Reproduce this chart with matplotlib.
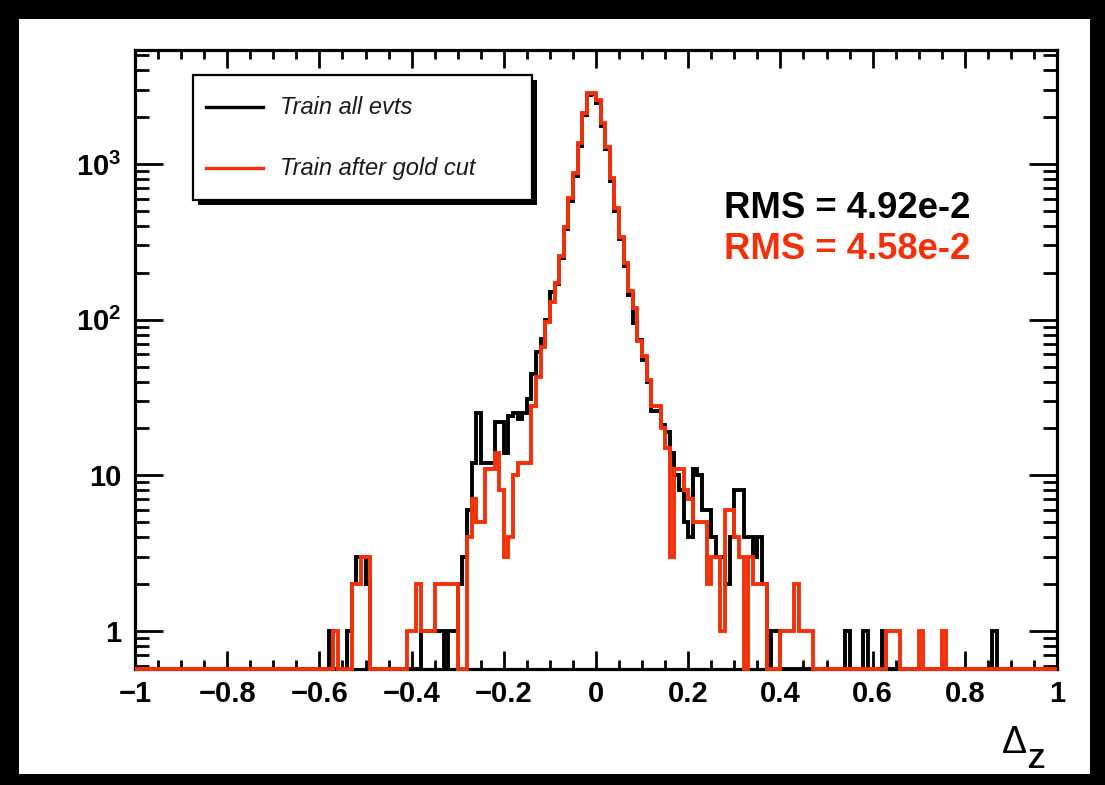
import numpy as np
import matplotlib
matplotlib.use('Agg')
import matplotlib.pyplot as plt
from matplotlib.patches import Rectangle
from matplotlib.lines import Line2D
from matplotlib.ticker import FixedLocator, LogLocator, NullFormatter, FixedFormatter

plt.rcParams['font.family'] = ['Liberation Sans', 'DejaVu Sans']
plt.rcParams['mathtext.fontset'] = 'custom'
plt.rcParams['mathtext.rm'] = 'Liberation Sans:bold'
plt.rcParams['mathtext.bf'] = 'Liberation Sans:bold'
plt.rcParams['mathtext.it'] = 'Liberation Sans:bold:italic'

# ---------------- data (200 bins from -1 to 1, width 0.01) ----------------
bin_lo, bin_hi, n_bins = -1.0, 1.0, 200

all_evts = [
    0, 0, 0, 0, 0, 0, 0, 0, 0, 0,          # -1.00 .. -0.91
    0, 0, 0, 0, 0, 0, 0, 0, 0, 0,          # -0.90
    0, 0, 0, 0, 0, 0, 0, 0, 0, 0,          # -0.80
    0, 0, 0, 0, 0, 0, 0, 0, 0, 0,          # -0.70
    0, 0, 1, 0, 0, 0, 1, 2, 3, 3,          # -0.60
    2, 0, 0, 0, 0, 0, 0, 0, 0, 0,          # -0.50
    0, 0, 1, 1, 1, 1, 1, 0, 1, 1,          # -0.40
    2, 3, 6, 12, 25, 12, 12, 12, 22, 22,   # -0.30
    14, 24, 25, 23, 25, 31, 45, 62, 75, 100,          # -0.20
    150, 170, 250, 385, 580, 840, 1300, 2050, 2780, 2800,  # -0.10
    2480, 1760, 1240, 780, 500, 330, 222, 145, 95, 74,     # 0.00
    55, 40, 26, 26, 21, 19, 14, 10, 8, 5,  # 0.10
    4, 11, 10, 6, 6, 4, 3, 3, 2, 4,        # 0.20
    8, 8, 4, 4, 3, 4, 2, 0, 1, 1,          # 0.30
    0, 0, 0, 0, 0, 0, 0, 0, 0, 0,          # 0.40
    0, 0, 0, 0, 1, 0, 0, 0, 1, 0,          # 0.50
    0, 0, 1, 0, 0, 0, 0, 0, 0, 0,          # 0.60
    0, 0, 0, 0, 0, 0, 0, 0, 0, 0,          # 0.70
    0, 0, 0, 0, 0, 0, 1, 0, 0, 0,          # 0.80
    0, 0, 0, 0, 0, 0, 0, 0, 0, 0,          # 0.90
]

gold_cut = [
    0, 0, 0, 0, 0, 0, 0, 0, 0, 0,          # -1.00
    0, 0, 0, 0, 0, 0, 0, 0, 0, 0,          # -0.90
    0, 0, 0, 0, 0, 0, 0, 0, 0, 0,          # -0.80
    0, 0, 0, 0, 0, 0, 0, 0, 0, 0,          # -0.70
    0, 0, 0, 1, 0, 0, 0, 2, 2, 3,          # -0.60
    3, 0, 0, 0, 0, 0, 0, 0, 0, 1,          # -0.50
    1, 2, 1, 1, 1, 2, 2, 2, 2, 2,          # -0.40
    0, 0, 4, 7, 5, 5, 11, 11, 14, 8,       # -0.30
    3, 4, 10, 12, 12, 12, 28, 43, 67, 97,  # -0.20
    130, 172, 255, 396, 603, 872, 1358, 2115, 2850, 2870,  # -0.10
    2570, 1824, 1291, 809, 520, 342, 231, 152, 119, 73,    # 0.00
    58, 41, 28, 28, 20, 15, 3, 11, 11, 8,  # 0.10
    7, 5, 5, 5, 2, 3, 3, 1, 6, 6,          # 0.20
    4, 3, 0, 3, 2, 2, 2, 0, 0, 0,          # 0.30
    1, 1, 1, 2, 1, 1, 1, 0, 0, 0,          # 0.40
    0, 0, 0, 0, 0, 0, 0, 0, 0, 0,          # 0.50
    0, 0, 0, 1, 1, 1, 0, 0, 0, 0,          # 0.60
    1, 0, 0, 0, 0, 1, 0, 0, 0, 0,          # 0.70
    0, 0, 0, 0, 0, 0, 0, 0, 0, 0,          # 0.80
    0, 0, 0, 0, 0, 0, 0, 0, 0, 0,          # 0.90
]

x_major = [-1, -0.8, -0.6, -0.4, -0.2, 0, 0.2, 0.4, 0.6, 0.8, 1]
x_labels = ['\u22121', '\u22120.8', '\u22120.6', '\u22120.4', '\u22120.2', '0',
            '0.2', '0.4', '0.6', '0.8', '1']
y_major = [1, 10, 100, 1000]
y_labels = ['1', '10', r'$10^{2}$', r'$10^{3}$']
legend_labels = ['Train all evts', 'Train after gold cut']
rms_texts = ['RMS = 4.92e-2', 'RMS = 4.58e-2']

YMIN, YMAX = 0.57, 5400
RED = '#f2300a'

# ---------------- figure ----------------
W, H = 1105, 785
fig = plt.figure(figsize=(W / 100, H / 100), dpi=100)
fig.patch.set_facecolor('black')


def fx(px):
    return px / W


def fy(py):
    return 1 - py / H


fig.patches.append(Rectangle((fx(19), fy(774)), fx(1090 - 19), (774 - 19) / H,
                             transform=fig.transFigure, facecolor='white',
                             edgecolor='none', zorder=-10))

ax = fig.add_axes([fx(135), fy(669), fx(1057 - 135), (669 - 50) / H])
ax.set_facecolor('white')

edges = np.linspace(bin_lo, bin_hi, n_bins + 1)
b = np.asarray(all_evts, dtype=float)
r = np.asarray(gold_cut, dtype=float)
ax.stairs(np.where(b > 0, b, YMIN), edges, baseline=None, color='black',
          lw=2.8, zorder=3, clip_on=False)
ax.stairs(np.where(r > 0, r, YMIN), edges, baseline=None, color=RED,
          lw=2.8, zorder=4, clip_on=False)

ax.set_yscale('log')
ax.set_xlim(-1, 1)
ax.set_ylim(YMIN, YMAX)

for s in ax.spines.values():
    s.set_linewidth(2.3)
    s.set_zorder(2)

ax.xaxis.set_major_locator(FixedLocator(x_major))
ax.xaxis.set_major_formatter(FixedFormatter(x_labels))
ax.xaxis.set_minor_locator(FixedLocator(np.arange(-1, 1.001, 0.05)))
ax.yaxis.set_major_locator(FixedLocator(y_major))
ax.yaxis.set_major_formatter(FixedFormatter(y_labels))
ax.yaxis.set_minor_locator(LogLocator(base=10, subs=np.arange(2, 10)))
ax.yaxis.set_minor_formatter(NullFormatter())

ax.tick_params(which='both', direction='in', top=True, right=True, width=2.0)
ax.tick_params(axis='x', which='major', length=13, pad=8, labelsize=21)
ax.tick_params(axis='x', which='minor', length=6.5)
ax.tick_params(axis='y', which='major', length=20, pad=10, labelsize=21)
ax.tick_params(axis='y', which='minor', length=10)
for lab in ax.get_xticklabels() + ax.get_yticklabels():
    lab.set_fontweight('bold')

# axis title
fig.text(fx(1002), fy(753), '\u0394', fontsize=27, ha='left', va='baseline')
fig.text(fx(1027), fy(768), 'Z', fontsize=20, ha='left', va='baseline',
         fontweight='bold')

# RMS texts
fig.text(fx(724), fy(218), rms_texts[0], fontsize=26.3, fontweight='bold',
         color='black', ha='left', va='baseline')
fig.text(fx(724), fy(259), rms_texts[1], fontsize=26.3, fontweight='bold',
         color=RED, ha='left', va='baseline')

# legend box with shadow
fig.patches.append(Rectangle((fx(198), fy(205)), fx(532 - 193), (200 - 75) / H,
                             transform=fig.transFigure, facecolor='black',
                             edgecolor='none', zorder=5))
fig.patches.append(Rectangle((fx(193), fy(200)), fx(532 - 193), (200 - 75) / H,
                             transform=fig.transFigure, facecolor='white',
                             edgecolor='black', lw=1.6, zorder=6))
fig.lines.append(Line2D([fx(206), fx(263)], [fy(107), fy(107)],
                        transform=fig.transFigure, color='black', lw=2.4, zorder=7))
fig.lines.append(Line2D([fx(206), fx(263)], [fy(168), fy(168)],
                        transform=fig.transFigure, color=RED, lw=2.4, zorder=7))
fig.text(fx(280), fy(107), legend_labels[0], fontsize=17, style='italic',
         color='#1a1a1a', ha='left', va='center', zorder=8)
fig.text(fx(280), fy(168), legend_labels[1], fontsize=17, style='italic',
         color='#1a1a1a', ha='left', va='center', zorder=8)

fig.savefig('out.png', dpi=100, facecolor=fig.get_facecolor())
